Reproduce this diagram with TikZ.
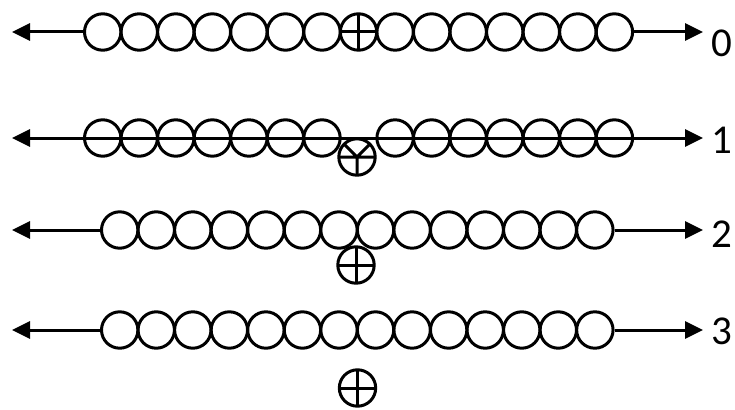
\documentclass[tikz,border=0pt]{standalone}
\usepackage{fontspec}
\setmainfont{Carlito}
\usetikzlibrary{arrows.meta}
\begin{document}
\begin{tikzpicture}[x=1pt,y=-1pt,
  bead/.style={circle,draw,line width=3pt,minimum size=36.4pt,inner sep=0pt},
  ion/.style={bead,path picture={\draw[line width=3pt]
      (path picture bounding box.north)--(path picture bounding box.south)
      (path picture bounding box.west)--(path picture bounding box.east);}},
  ionY/.style={bead,path picture={\draw[line width=3pt]
      (path picture bounding box.center)--(path picture bounding box.south)
      (path picture bounding box.west)--(path picture bounding box.east)
      (path picture bounding box.center)--++(135:22pt)
      (path picture bounding box.center)--++(45:22pt);}},
  tip/.tip={Triangle[length=18pt,width=17pt]},
  axis/.style={line width=3pt,-tip},
  lab/.style={anchor=west,inner sep=0pt,font=\fontsize{41}{48}\selectfont}]
\useasboundingbox (0,0) rectangle (735,409);
% row 0
\foreach \k in {0,...,6,8,9,...,14} \node[bead] (a\k) at ({102.7+36.55*\k},32) {};
\node[ion] (p0) at ({102.7+36.55*7},32) {};
\coordinate (L0) at (12,32);
\coordinate (R0) at (703,32);
\draw[axis] (a0.west) -- (L0);
\draw[axis] (a14.east) -- (R0);
\node[lab] (t0) at (711,43) {0};
% row 1
\coordinate (L1) at (12,138);
\coordinate (R1) at (703,138);
\draw[line width=3pt,tip-tip] (L1) -- (R1);
\foreach \k in {0,...,6,8,9,...,14} \node[bead] (b\k) at ({102.7+36.55*\k},138) {};
\node[ionY] (p1) at (357,157) {};
\node[lab] (t1) at (711,140) {1};
% row 2
\foreach \k in {0,...,13} \node[bead] (c\k) at ({119.7+36.55*\k},230) {};
\node[ion] (p2) at (356,265) {};
\coordinate (L2) at (12,230);
\coordinate (R2) at (703,230);
\draw[axis] (c0.west) -- (L2);
\draw[axis] (c13.east) -- (R2);
\node[lab] (t2) at (711,234) {2};
% row 3
\foreach \k in {0,...,13} \node[bead] (d\k) at ({119.7+36.55*\k},330) {};
\node[ion] (p3) at (357.5,388) {};
\coordinate (L3) at (12,330);
\coordinate (R3) at (703,330);
\draw[axis] (d0.west) -- (L3);
\draw[axis] (d13.east) -- (R3);
\node[lab] (t3) at (711,331) {3};
\end{tikzpicture}
\end{document}
